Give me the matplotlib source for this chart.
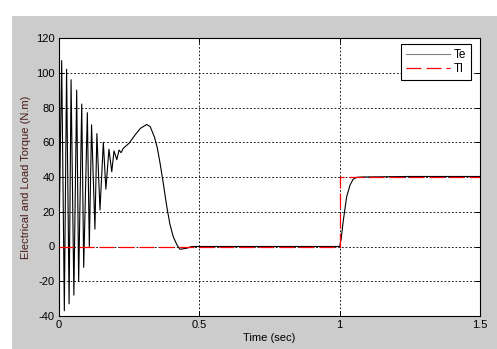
import matplotlib
matplotlib.use("Agg")
import matplotlib.pyplot as plt
from matplotlib.patches import Rectangle

plt.rcParams['font.family'] = ['Liberation Sans', 'DejaVu Sans']
plt.rcParams['axes.unicode_minus'] = False

# Electromagnetic torque Te (N.m) sampled at its turning points
te_time = [0.0, 0.0096, 0.019, 0.027, 0.036, 0.043, 0.053, 0.063, 0.070,
           0.081, 0.088, 0.101, 0.108, 0.116, 0.128, 0.135, 0.146, 0.158,
           0.167, 0.178, 0.188, 0.196, 0.206, 0.214, 0.221, 0.229, 0.25,
           0.27, 0.29, 0.3125, 0.325, 0.34, 0.35, 0.36, 0.37, 0.384, 0.395,
           0.407, 0.42, 0.431, 0.455, 0.473, 1.0, 1.005, 1.013, 1.025,
           1.037, 1.048, 1.06, 1.08, 1.25, 1.5]
te_vals = [5, 107, -37, 102, -33, 96, -28, 90, -20,
           82, -12, 77, 0, 70, 10, 65, 21, 60,
           33, 56, 43, 55, 50, 55.5, 54, 56.5, 59.5,
           64, 68, 70.2, 69, 63, 57, 48, 38, 23, 13,
           5.6, 1, -1.6, -1, 0, 0, 4, 15, 28.7,
           35.4, 38.7, 39.8, 40, 40.3, 40.3]

# Load torque Tl: step from 0 to 40 N.m at t = 1 s
tl_time = [0.0, 1.0, 1.0, 1.5]
tl_vals = [0, 0, 40, 40]

x_ticks = [0, 0.5, 1, 1.5]
x_tick_labels = ['0', '0.5', '1', '1.5']
y_ticks = [-40, -20, 0, 20, 40, 60, 80, 100, 120]

fig = plt.figure(figsize=(4.97, 3.49), dpi=100, facecolor='white')
# grey figure panel behind the axes
panel = Rectangle((12 / 497, 0), 1 - 12 / 497, 1 - 16 / 349,
                  transform=fig.transFigure, facecolor='#cccccc',
                  edgecolor='none', zorder=-10)
fig.add_artist(panel)

ax = fig.add_axes([59 / 497, 1 - 316 / 349, (480 - 59) / 497, (316 - 38) / 349])
ax.set_zorder(5)
ax.set_facecolor('white')

ax.plot(te_time, te_vals, color='black', lw=0.8, label='Te', zorder=3)
ax.plot(tl_time, tl_vals, color='red', lw=0.9, dashes=(12, 4), label='Tl', zorder=4)

ax.set_xlim(0, 1.5)
ax.set_ylim(-40, 120)
ax.set_xticks(x_ticks)
ax.set_xticklabels(x_tick_labels)
ax.set_yticks(y_ticks)
ax.tick_params(direction='in', top=True, right=True, length=3.5, width=0.7,
               labelsize=8, pad=3)
ax.grid(True, color='black', linestyle=(0, (2.2, 2.2)), lw=0.6)
for s in ax.spines.values():
    s.set_linewidth(0.8)

ax.set_xlabel('Time (sec)', fontsize=8, labelpad=2)
ax.set_ylabel('Electrical and Load Torque (N.m)', fontsize=8, color='#4a1a1a',
              labelpad=4)

leg = ax.legend(loc='upper right', bbox_to_anchor=(1 - 9 / 421, 1 - 6 / 278),
                fontsize=8.5, fancybox=False, framealpha=1,
                edgecolor='black', borderaxespad=0, handlelength=3.8,
                handletextpad=0.3, borderpad=0.4, labelspacing=0.22)
leg.get_frame().set_linewidth(0.8)
leg.get_lines()[0].set_color('#808080')

fig.savefig('out.png', dpi=100, facecolor=fig.get_facecolor())
